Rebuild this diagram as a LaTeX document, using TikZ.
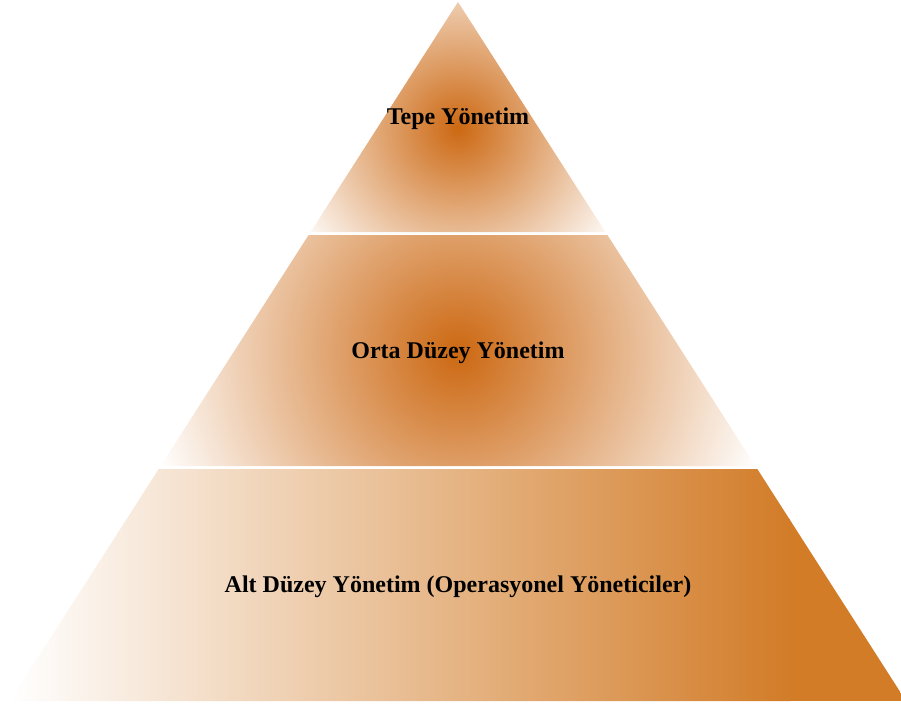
\documentclass[tikz,border=0pt]{standalone}
\usepackage{fontspec}
\setmainfont{Liberation Serif}
\definecolor{orC}{RGB}{204,104,18}
\definecolor{orR}{RGB}{210,124,40}
\pgfdeclareradialshading{segrad}{\pgfpoint{0bp}{0bp}}{color(0bp)=(orC); color(25bp)=(white); color(50bp)=(white)}
\tikzset{lbl/.style={font=\bfseries\fontsize{24}{28}\selectfont, text=black, inner sep=0pt}}
\begin{document}
\begin{tikzpicture}[x=1pt,y=-1pt]
\useasboundingbox (0,0) rectangle (901,706);
% top segment
\begin{scope}
\clip (458,2) -- (605.4,232) -- (310.6,232) -- cycle;
\shade[shading=segrad] (458,128) circle (190);
\end{scope}
% middle segment
\begin{scope}
\clip (308.6,235) -- (607.4,235) -- (755.4,466) -- (160.6,466) -- cycle;
\shade[shading=segrad] (458,352) circle (320);
\end{scope}
% bottom segment
\begin{scope}
\clip (158.7,469) -- (757.3,469) -- (906,701) -- (10,701) -- cycle;
\shade[left color=white, right color=orR] (10,469) rectangle (790,701);
\fill[orR] (789,469) rectangle (906,701);
\end{scope}
\node[lbl] (top) at (458,119) {Tepe Yönetim};
\node[lbl] (mid) at (458,353) {Orta Düzey Yönetim};
\node[lbl] (bot) at (458,587) {Alt Düzey Yönetim (Operasyonel Yöneticiler)};
\end{tikzpicture}
\end{document}
